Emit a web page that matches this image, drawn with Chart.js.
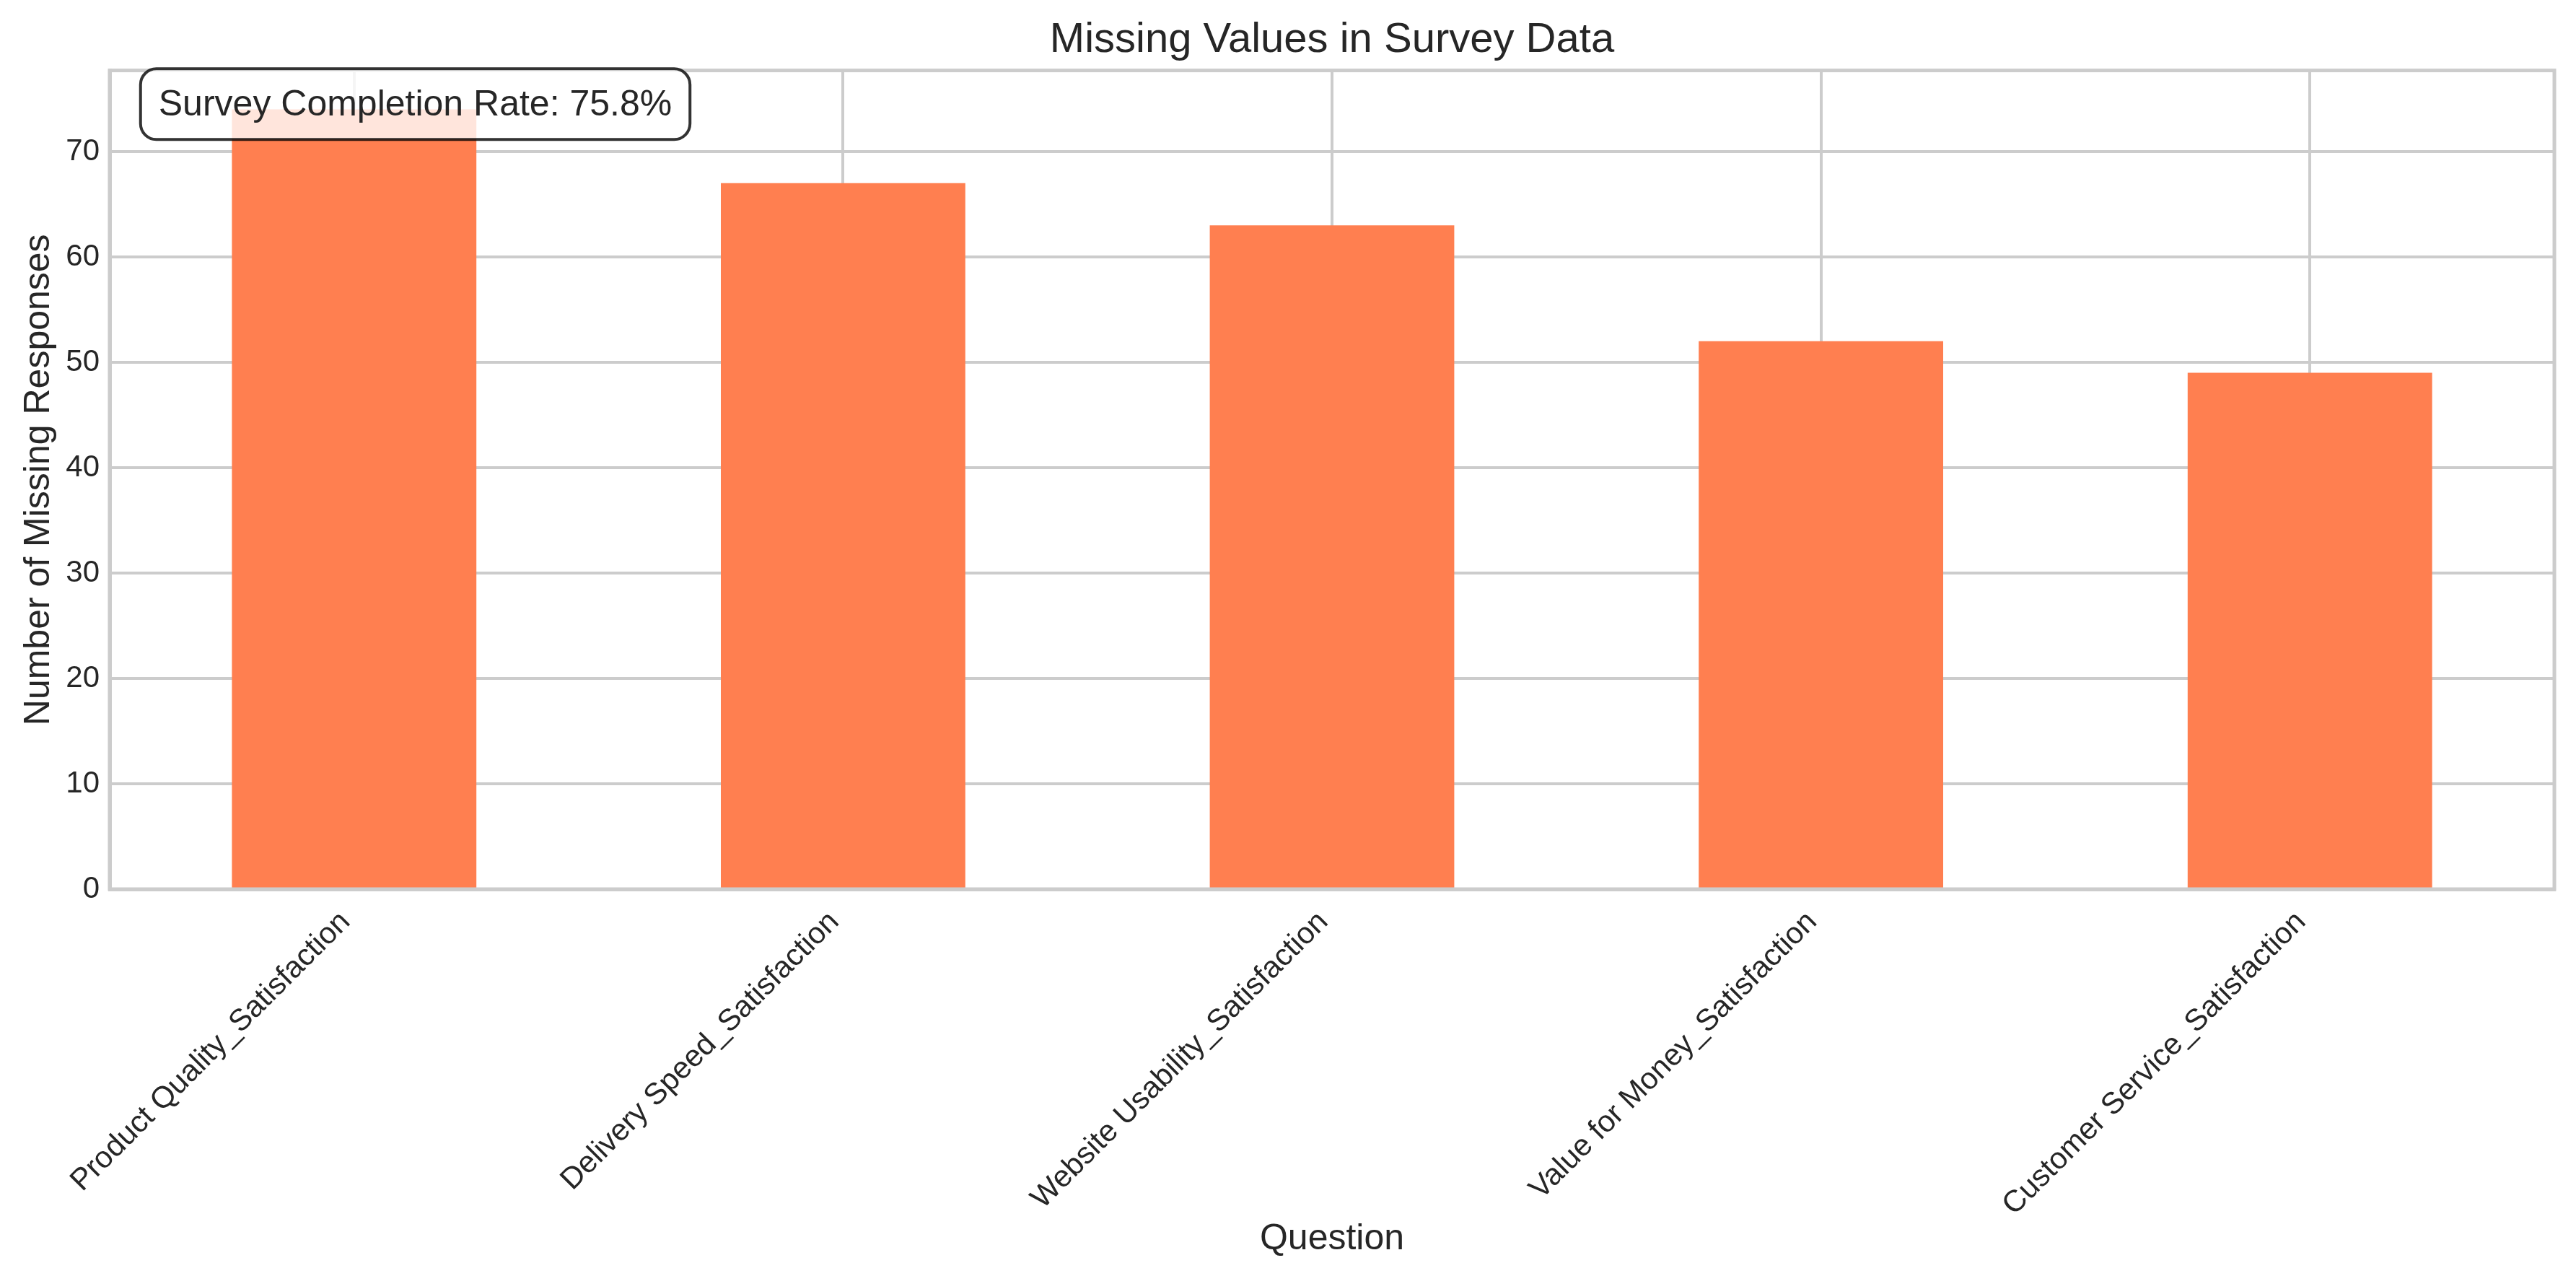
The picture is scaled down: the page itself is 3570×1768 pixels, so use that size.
<!DOCTYPE html>
<html>
<head>
<meta charset="utf-8">
<script src="https://cdn.jsdelivr.net/npm/chart.js@4.4.1/dist/chart.umd.min.js"></script>
<style>
  body { margin: 0; background: #ffffff; }
  #wrap { width: 3570px; height: 1768px; }
</style>
</head>
<body>
<div id="wrap"><canvas id="missingChart" width="3570" height="1768"></canvas></div>
<script>
// survey questions and their missing response counts
const questions = [
  "Product Quality_Satisfaction",
  "Delivery Speed_Satisfaction",
  "Website Usability_Satisfaction",
  "Value for Money_Satisfaction",
  "Customer Service_Satisfaction",
];
const missingCounts = [74, 67, 63, 52, 49];
const yTicks = [0, 10, 20, 30, 40, 50, 60, 70];
const completionNote = "Survey Completion Rate: 75.8%";

const FONT = "'Liberation Sans', Arial, Helvetica, sans-serif";
const TEXT = "#262626";
const GRID = "#cccccc";

// outer frame (top/right spines) + the completion rate box
const framePlugin = {
  id: "frame",
  afterDatasetsDraw(chart) {
    const { ctx, chartArea: a } = chart;
    ctx.save();
    ctx.strokeStyle = GRID;
    ctx.lineWidth = 5;
    ctx.strokeRect(a.left, a.top, a.right - a.left, a.bottom - a.top);
    ctx.restore();
  },
  afterDraw(chart) {
    const { ctx, chartArea: a } = chart;
    ctx.save();
    ctx.font = "50px " + FONT;
    const tw = ctx.measureText(completionNote).width;
    const tx = a.left + 0.02 * (a.right - a.left);
    const ty = a.top + 0.02 * (a.bottom - a.top);
    const pad = 25;
    const bx = tx - pad, by = ty - pad;
    const bw = tw + pad * 2, bh = 98;
    ctx.beginPath();
    ctx.roundRect(bx, by, bw, bh, 22);
    ctx.fillStyle = "rgba(255,255,255,0.8)";
    ctx.fill();
    ctx.lineWidth = 4;
    ctx.strokeStyle = "rgba(0,0,0,0.8)";
    ctx.stroke();
    ctx.fillStyle = TEXT;
    ctx.textBaseline = "middle";
    ctx.textAlign = "left";
    ctx.fillText(completionNote, tx, by + bh / 2 + 2);
    ctx.restore();
  },
};

const ctx = document.getElementById("missingChart").getContext("2d");
new Chart(ctx, {
  type: "bar",
  data: {
    labels: questions,
    datasets: [
      {
        label: "Missing",
        data: missingCounts,
        backgroundColor: "#FF7F50",
        borderWidth: 0,
        categoryPercentage: 1.0,
        barPercentage: 0.5,
      },
    ],
  },
  options: {
    responsive: false,
    animation: false,
    devicePixelRatio: 1,
    layout: { padding: { left: 0, right: 30, top: 0, bottom: 0 } },
    plugins: {
      legend: { display: false },
      tooltip: { enabled: false },
      title: {
        display: true,
        fullSize: false,
        text: "Missing Values in Survey Data",
        color: TEXT,
        font: { family: FONT, size: 58, weight: "normal" },
        padding: { top: 21, bottom: 7 },
      },
    },
    scales: {
      x: {
        offset: true,
        grid: { color: GRID, lineWidth: 4, offset: false, drawTicks: false },
        border: { display: true, color: GRID, width: 5 },
        ticks: {
          color: TEXT,
          font: { family: FONT, size: 42 },
          minRotation: 45,
          maxRotation: 45,
          autoSkip: false,
          padding: 21,
          labelOffset: -12,
        },
        title: {
          display: true,
          text: "Question",
          color: TEXT,
          font: { family: FONT, size: 50 },
          padding: { top: 0, bottom: 21 },
        },
        afterFit(scale) {
          scale.height = 536;
        },
      },
      y: {
        min: 0,
        max: Math.max(...missingCounts) * 1.05,
        grid: { color: GRID, lineWidth: 4, drawTicks: false },
        border: { display: true, color: GRID, width: 5 },
        afterBuildTicks(scale) {
          scale.ticks = yTicks.map((v) => ({ value: v }));
        },
        ticks: {
          color: TEXT,
          font: { family: FONT, size: 42 },
          padding: 14,
        },
        title: {
          display: true,
          text: "Number of Missing Responses",
          color: TEXT,
          font: { family: FONT, size: 50 },
          padding: { top: 24, bottom: 0 },
        },
        afterFit(scale) {
          scale.width = 152;
        },
      },
    },
  },
  plugins: [framePlugin],
});
</script>
</body>
</html>
